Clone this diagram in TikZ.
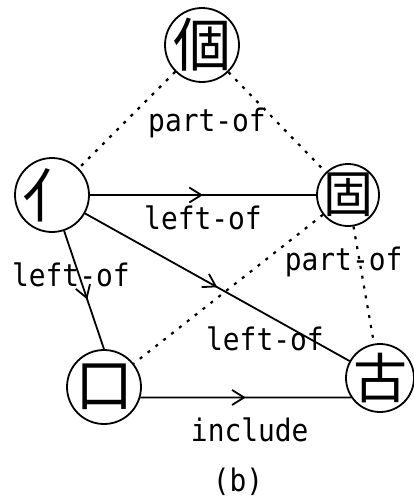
\documentclass[tikz,border=0pt]{standalone}
\usepackage{fontspec}
\usepackage{tikz}
\usetikzlibrary{shapes,arrows.meta,decorations.markings}
\newfontfamily\cjkfont{Noto Sans CJK TC}
\newfontfamily\relfont[FakeStretch=0.9]{DejaVu Sans Mono}

\tikzset{arrow at/.style={postaction={decorate,decoration={markings,
	mark=at position #1 with {\arrow{Straight Barb[length=12pt,width=15pt,line width=1.8pt]}}}}}}

\begin{document}
\begin{tikzpicture}[x=1pt,y=-1pt,line width=1.8pt]
	\def \toprow{45}
	\def \midrow{195}
	\def \botrow{387}
	\def \corner{378}
	
	\tikzstyle{k-node}=[circle,draw=black,line width=1.8pt,inner sep=-12pt,minimum size=74pt,font=\cjkfont\fontsize{58}{58}\selectfont]
	\tikzstyle{rel}=[font=\relfont\fontsize{31}{32}\selectfont,inner sep=0pt]
	\tikzstyle{part}=[dash pattern=on 3pt off 7pt,line width=2.2pt]
	
	\useasboundingbox (0,0) rectangle (413,501);
	
	% radicals
	\node[k-node] 	(ge)	at (202,\toprow)	{個};
	\node[k-node] 	(ren)	at (52,\midrow)		{亻};
	\node[k-node,minimum size=62pt,font=\cjkfont\fontsize{50}{50}\selectfont] 	(gu)	at (348,\midrow)	{固};
	\node[k-node] 	(kou)	at (104,\botrow)	{口};
	\node[k-node,minimum size=68pt,font=\cjkfont\fontsize{54}{54}\selectfont] 	(gu2)	at (380,\corner)	{古};
	
	\node[rel]	(pl-top)	at (207,123)	{part-of};
	\node[rel]	(caption)	at (238,482)	{(b)};
	
	\path
		(ge)	edge[part]	(ren)
		(ge)	edge[part]	(gu)
		(gu)	edge[part]	(kou)
		(gu)	edge[part]	node [rel,pos=.3,xshift=-16pt] 	{part-of}	(gu2)
		
		(ren)	edge[arrow at=.5]	node [rel,midway,yshift=-23pt] 	{left-of}	(gu)
		(ren)	edge[arrow at=.5]	node [rel,pos=.68,yshift=-25pt] 	{left-of}	(gu2)
		(ren)	edge[arrow at=.58]	node [rel,pos=.37,xshift=-8pt] 	{left-of}	(kou.north)
		(kou.-16)	edge[arrow at=.5]	node [rel,midway,xshift=4pt,yshift=-32pt] 	{include}	(gu2.214);
\end{tikzpicture}
\end{document}
